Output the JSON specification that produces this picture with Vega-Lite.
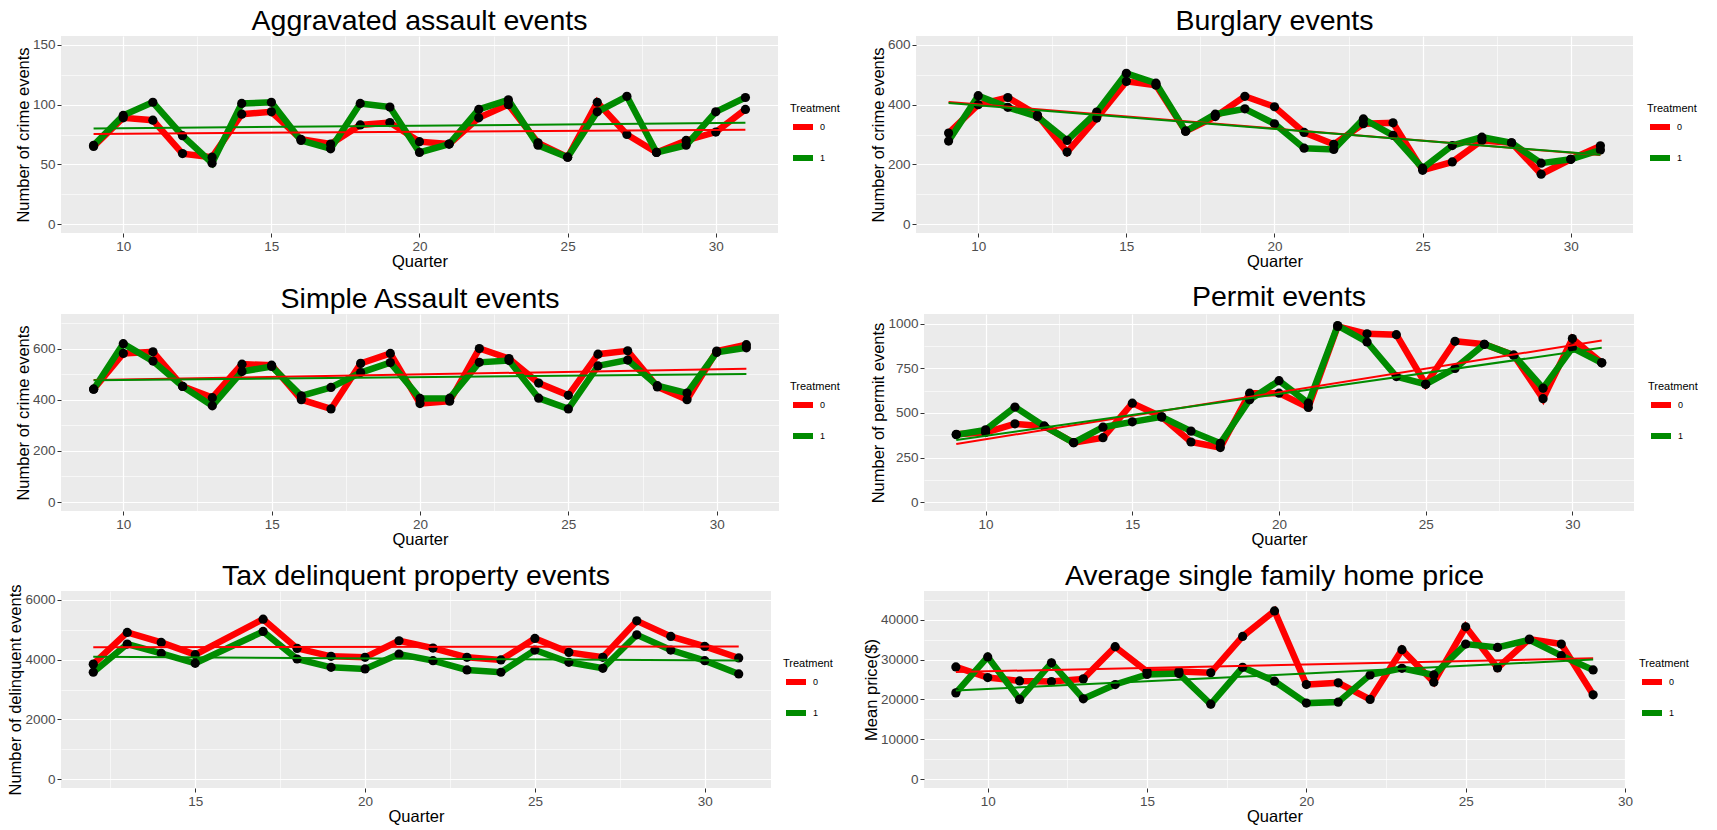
{
"$schema": "https://vega.github.io/schema/vega-lite/v6.json",
"background": "white",
"padding": {"left": 7, "top": 6, "right": 0, "bottom": 0},
"datasets": {"d": [
{"p":"A","q":9,"t":"0","v":65},{"p":"A","q":9,"t":"1","v":66},
{"p":"A","q":10,"t":"0","v":89},{"p":"A","q":10,"t":"1","v":91},
{"p":"A","q":11,"t":"0","v":87},{"p":"A","q":11,"t":"1","v":102},
{"p":"A","q":12,"t":"0","v":59},{"p":"A","q":12,"t":"1","v":74},
{"p":"A","q":13,"t":"0","v":56},{"p":"A","q":13,"t":"1","v":51},
{"p":"A","q":14,"t":"0","v":92},{"p":"A","q":14,"t":"1","v":101},
{"p":"A","q":15,"t":"0","v":94},{"p":"A","q":15,"t":"1","v":102},
{"p":"A","q":16,"t":"0","v":71},{"p":"A","q":16,"t":"1","v":70},
{"p":"A","q":17,"t":"0","v":67},{"p":"A","q":17,"t":"1","v":63},
{"p":"A","q":18,"t":"0","v":83},{"p":"A","q":18,"t":"1","v":101},
{"p":"A","q":19,"t":"0","v":85},{"p":"A","q":19,"t":"1","v":98},
{"p":"A","q":20,"t":"0","v":69},{"p":"A","q":20,"t":"1","v":60},
{"p":"A","q":21,"t":"0","v":67},{"p":"A","q":21,"t":"1","v":67},
{"p":"A","q":22,"t":"0","v":89},{"p":"A","q":22,"t":"1","v":96},
{"p":"A","q":23,"t":"0","v":100},{"p":"A","q":23,"t":"1","v":104},
{"p":"A","q":24,"t":"0","v":68},{"p":"A","q":24,"t":"1","v":66},
{"p":"A","q":25,"t":"0","v":56},{"p":"A","q":25,"t":"1","v":56},
{"p":"A","q":26,"t":"0","v":102},{"p":"A","q":26,"t":"1","v":94},
{"p":"A","q":27,"t":"0","v":75},{"p":"A","q":27,"t":"1","v":107},
{"p":"A","q":28,"t":"0","v":60},{"p":"A","q":28,"t":"1","v":60},
{"p":"A","q":29,"t":"0","v":70},{"p":"A","q":29,"t":"1","v":66},
{"p":"A","q":30,"t":"0","v":77},{"p":"A","q":30,"t":"1","v":94},
{"p":"A","q":31,"t":"0","v":96},{"p":"A","q":31,"t":"1","v":106},

{"p":"B","q":9,"t":"0","v":305},{"p":"B","q":9,"t":"1","v":278},
{"p":"B","q":10,"t":"0","v":400},{"p":"B","q":10,"t":"1","v":430},
{"p":"B","q":11,"t":"0","v":424},{"p":"B","q":11,"t":"1","v":391},
{"p":"B","q":12,"t":"0","v":365},{"p":"B","q":12,"t":"1","v":360},
{"p":"B","q":13,"t":"0","v":241},{"p":"B","q":13,"t":"1","v":280},
{"p":"B","q":14,"t":"0","v":355},{"p":"B","q":14,"t":"1","v":375},
{"p":"B","q":15,"t":"0","v":478},{"p":"B","q":15,"t":"1","v":505},
{"p":"B","q":16,"t":"0","v":465},{"p":"B","q":16,"t":"1","v":472},
{"p":"B","q":17,"t":"0","v":311},{"p":"B","q":17,"t":"1","v":311},
{"p":"B","q":18,"t":"0","v":360},{"p":"B","q":18,"t":"1","v":368},
{"p":"B","q":19,"t":"0","v":428},{"p":"B","q":19,"t":"1","v":386},
{"p":"B","q":20,"t":"0","v":393},{"p":"B","q":20,"t":"1","v":336},
{"p":"B","q":21,"t":"0","v":307},{"p":"B","q":21,"t":"1","v":254},
{"p":"B","q":22,"t":"0","v":267},{"p":"B","q":22,"t":"1","v":250},
{"p":"B","q":23,"t":"0","v":336},{"p":"B","q":23,"t":"1","v":352},
{"p":"B","q":24,"t":"0","v":339},{"p":"B","q":24,"t":"1","v":297},
{"p":"B","q":25,"t":"0","v":180},{"p":"B","q":25,"t":"1","v":187},
{"p":"B","q":26,"t":"0","v":208},{"p":"B","q":26,"t":"1","v":263},
{"p":"B","q":27,"t":"0","v":280},{"p":"B","q":27,"t":"1","v":291},
{"p":"B","q":28,"t":"0","v":272},{"p":"B","q":28,"t":"1","v":272},
{"p":"B","q":29,"t":"0","v":167},{"p":"B","q":29,"t":"1","v":204},
{"p":"B","q":30,"t":"0","v":217},{"p":"B","q":30,"t":"1","v":217},
{"p":"B","q":31,"t":"0","v":262},{"p":"B","q":31,"t":"1","v":248},

{"p":"C","q":9,"t":"0","v":441},{"p":"C","q":9,"t":"1","v":441},
{"p":"C","q":10,"t":"0","v":581},{"p":"C","q":10,"t":"1","v":619},
{"p":"C","q":11,"t":"0","v":587},{"p":"C","q":11,"t":"1","v":551},
{"p":"C","q":12,"t":"0","v":452},{"p":"C","q":12,"t":"1","v":452},
{"p":"C","q":13,"t":"0","v":408},{"p":"C","q":13,"t":"1","v":376},
{"p":"C","q":14,"t":"0","v":539},{"p":"C","q":14,"t":"1","v":510},
{"p":"C","q":15,"t":"0","v":535},{"p":"C","q":15,"t":"1","v":530},
{"p":"C","q":16,"t":"0","v":400},{"p":"C","q":16,"t":"1","v":415},
{"p":"C","q":17,"t":"0","v":364},{"p":"C","q":17,"t":"1","v":448},
{"p":"C","q":18,"t":"0","v":542},{"p":"C","q":18,"t":"1","v":506},
{"p":"C","q":19,"t":"0","v":581},{"p":"C","q":19,"t":"1","v":545},
{"p":"C","q":20,"t":"0","v":385},{"p":"C","q":20,"t":"1","v":405},
{"p":"C","q":21,"t":"0","v":394},{"p":"C","q":21,"t":"1","v":406},
{"p":"C","q":22,"t":"0","v":600},{"p":"C","q":22,"t":"1","v":546},
{"p":"C","q":23,"t":"0","v":561},{"p":"C","q":23,"t":"1","v":553},
{"p":"C","q":24,"t":"0","v":465},{"p":"C","q":24,"t":"1","v":406},
{"p":"C","q":25,"t":"0","v":417},{"p":"C","q":25,"t":"1","v":364},
{"p":"C","q":26,"t":"0","v":578},{"p":"C","q":26,"t":"1","v":532},
{"p":"C","q":27,"t":"0","v":591},{"p":"C","q":27,"t":"1","v":555},
{"p":"C","q":28,"t":"0","v":450},{"p":"C","q":28,"t":"1","v":455},
{"p":"C","q":29,"t":"0","v":400},{"p":"C","q":29,"t":"1","v":426},
{"p":"C","q":30,"t":"0","v":590},{"p":"C","q":30,"t":"1","v":585},
{"p":"C","q":31,"t":"0","v":615},{"p":"C","q":31,"t":"1","v":603},

{"p":"D","q":9,"t":"0","v":380},{"p":"D","q":9,"t":"1","v":378},
{"p":"D","q":10,"t":"0","v":390},{"p":"D","q":10,"t":"1","v":405},
{"p":"D","q":11,"t":"0","v":439},{"p":"D","q":11,"t":"1","v":533},
{"p":"D","q":12,"t":"0","v":426},{"p":"D","q":12,"t":"1","v":426},
{"p":"D","q":13,"t":"0","v":333},{"p":"D","q":13,"t":"1","v":333},
{"p":"D","q":14,"t":"0","v":361},{"p":"D","q":14,"t":"1","v":420},
{"p":"D","q":15,"t":"0","v":555},{"p":"D","q":15,"t":"1","v":450},
{"p":"D","q":16,"t":"0","v":478},{"p":"D","q":16,"t":"1","v":478},
{"p":"D","q":17,"t":"0","v":337},{"p":"D","q":17,"t":"1","v":398},
{"p":"D","q":18,"t":"0","v":306},{"p":"D","q":18,"t":"1","v":330},
{"p":"D","q":19,"t":"0","v":611},{"p":"D","q":19,"t":"1","v":574},
{"p":"D","q":20,"t":"0","v":611},{"p":"D","q":20,"t":"1","v":681},
{"p":"D","q":21,"t":"0","v":531},{"p":"D","q":21,"t":"1","v":555},
{"p":"D","q":22,"t":"0","v":985},{"p":"D","q":22,"t":"1","v":990},
{"p":"D","q":23,"t":"0","v":944},{"p":"D","q":23,"t":"1","v":898},
{"p":"D","q":24,"t":"0","v":939},{"p":"D","q":24,"t":"1","v":704},
{"p":"D","q":25,"t":"0","v":661},{"p":"D","q":25,"t":"1","v":661},
{"p":"D","q":26,"t":"0","v":902},{"p":"D","q":26,"t":"1","v":750},
{"p":"D","q":27,"t":"0","v":885},{"p":"D","q":27,"t":"1","v":885},
{"p":"D","q":28,"t":"0","v":824},{"p":"D","q":28,"t":"1","v":824},
{"p":"D","q":29,"t":"0","v":580},{"p":"D","q":29,"t":"1","v":639},
{"p":"D","q":30,"t":"0","v":917},{"p":"D","q":30,"t":"1","v":865},
{"p":"D","q":31,"t":"0","v":781},{"p":"D","q":31,"t":"1","v":781},

{"p":"E","q":12,"t":"0","v":3850},{"p":"E","q":12,"t":"1","v":3580},
{"p":"E","q":13,"t":"0","v":4911},{"p":"E","q":13,"t":"1","v":4522},
{"p":"E","q":14,"t":"0","v":4578},{"p":"E","q":14,"t":"1","v":4211},
{"p":"E","q":15,"t":"0","v":4167},{"p":"E","q":15,"t":"1","v":3878},
{"p":"E","q":17,"t":"0","v":5356},{"p":"E","q":17,"t":"1","v":4944},
{"p":"E","q":18,"t":"0","v":4378},{"p":"E","q":18,"t":"1","v":4022},
{"p":"E","q":19,"t":"0","v":4111},{"p":"E","q":19,"t":"1","v":3744},
{"p":"E","q":20,"t":"0","v":4078},{"p":"E","q":20,"t":"1","v":3689},
{"p":"E","q":21,"t":"0","v":4633},{"p":"E","q":21,"t":"1","v":4189},
{"p":"E","q":22,"t":"0","v":4389},{"p":"E","q":22,"t":"1","v":3967},
{"p":"E","q":23,"t":"0","v":4078},{"p":"E","q":23,"t":"1","v":3656},
{"p":"E","q":24,"t":"0","v":3989},{"p":"E","q":24,"t":"1","v":3578},
{"p":"E","q":25,"t":"0","v":4711},{"p":"E","q":25,"t":"1","v":4322},
{"p":"E","q":26,"t":"0","v":4244},{"p":"E","q":26,"t":"1","v":3911},
{"p":"E","q":27,"t":"0","v":4078},{"p":"E","q":27,"t":"1","v":3711},
{"p":"E","q":28,"t":"0","v":5300},{"p":"E","q":28,"t":"1","v":4833},
{"p":"E","q":29,"t":"0","v":4778},{"p":"E","q":29,"t":"1","v":4322},
{"p":"E","q":30,"t":"0","v":4444},{"p":"E","q":30,"t":"1","v":3967},
{"p":"E","q":31,"t":"0","v":4056},{"p":"E","q":31,"t":"1","v":3522},

{"p":"F","q":9,"t":"0","v":28170},{"p":"F","q":9,"t":"1","v":21650},
{"p":"F","q":10,"t":"0","v":25500},{"p":"F","q":10,"t":"1","v":30680},
{"p":"F","q":11,"t":"0","v":24650},{"p":"F","q":11,"t":"1","v":20000},
{"p":"F","q":12,"t":"0","v":24500},{"p":"F","q":12,"t":"1","v":29200},
{"p":"F","q":13,"t":"0","v":25170},{"p":"F","q":13,"t":"1","v":20170},
{"p":"F","q":14,"t":"0","v":33250},{"p":"F","q":14,"t":"1","v":23750},
{"p":"F","q":15,"t":"0","v":27000},{"p":"F","q":15,"t":"1","v":26300},
{"p":"F","q":16,"t":"0","v":27000},{"p":"F","q":16,"t":"1","v":26500},
{"p":"F","q":17,"t":"0","v":26700},{"p":"F","q":17,"t":"1","v":18800},
{"p":"F","q":18,"t":"0","v":35830},{"p":"F","q":18,"t":"1","v":28080},
{"p":"F","q":19,"t":"0","v":42250},{"p":"F","q":19,"t":"1","v":24580},
{"p":"F","q":20,"t":"0","v":23750},{"p":"F","q":20,"t":"1","v":19080},
{"p":"F","q":21,"t":"0","v":24170},{"p":"F","q":21,"t":"1","v":19330},
{"p":"F","q":22,"t":"0","v":20000},{"p":"F","q":22,"t":"1","v":26170},
{"p":"F","q":23,"t":"0","v":32500},{"p":"F","q":23,"t":"1","v":27830},
{"p":"F","q":24,"t":"0","v":24330},{"p":"F","q":24,"t":"1","v":26170},
{"p":"F","q":25,"t":"0","v":38250},{"p":"F","q":25,"t":"1","v":33920},
{"p":"F","q":26,"t":"0","v":27920},{"p":"F","q":26,"t":"1","v":33080},
{"p":"F","q":27,"t":"0","v":35170},{"p":"F","q":27,"t":"1","v":35000},
{"p":"F","q":28,"t":"0","v":33920},{"p":"F","q":28,"t":"1","v":31000},
{"p":"F","q":29,"t":"0","v":21170},{"p":"F","q":29,"t":"1","v":27420}
]},
"data": {"name": "d"},
"spacing": 13,
"resolve": {"scale": {"color": "independent", "x": "independent", "y": "independent"}, "legend": {"color": "independent"}},
"vconcat": [
{"spacing": 30, "resolve": {"scale": {"color": "independent", "x": "independent", "y": "independent"}, "legend": {"color": "independent"}},
 "hconcat": [
 {"width": 717, "height": 197, "title": {"text": "Aggravated assault events"},
  "transform": [{"filter": "datum.p === 'A'"}],
  "encoding": {
   "x": {"field": "q", "type": "quantitative", "scale": {"domain": [7.9, 32.1], "nice": false, "zero": false},
     "axis": {"title": "Quarter", "values": [10,12.5,15,17.5,20,22.5,25,27.5,30], "labelExpr": "datum.value % 5 === 0 ? datum.label : ''", "gridWidth": {"condition": {"test": "datum.value % 5 !== 0", "value": 0.6}, "value": 1.2}, "tickOpacity": {"condition": {"test": "datum.value % 5 !== 0", "value": 0}, "value": 1}}},
   "y": {"field": "v", "type": "quantitative", "scale": {"domain": [-7.5, 157.5], "nice": false, "zero": false},
     "axis": {"title": "Number of crime events", "values": [0,25,50,75,100,125,150], "labelExpr": "datum.value % 50 === 0 ? datum.label : ''", "gridWidth": {"condition": {"test": "datum.value % 50 !== 0", "value": 0.6}, "value": 1.2}, "tickOpacity": {"condition": {"test": "datum.value % 50 !== 0", "value": 0}, "value": 1}}}
  },
  "layer": [
   {"mark": {"type": "line", "strokeWidth": 6.5}, "encoding": {"color": {"field": "t", "type": "nominal", "scale": {"domain": ["0","1"], "range": ["#FF0000","#008B00"]}, "legend": {"title": "Treatment", "orient": "none", "legendX": 729, "legendY": 67}}}},
   {"mark": {"type": "circle", "size": 85, "color": "black", "opacity": 1}, "encoding": {}},
   {"transform": [{"regression": "v", "on": "q", "groupby": ["t"]}], "mark": {"type": "line", "strokeWidth": 2}, "encoding": {"color": {"field": "t", "type": "nominal", "scale": {"domain": ["0","1"], "range": ["#FF0000","#008B00"]}, "legend": {"title": "Treatment", "orient": "none", "legendX": 729, "legendY": 67}}}}
  ]},
 {"width": 717, "height": 197, "title": {"text": "Burglary events"},
  "transform": [{"filter": "datum.p === 'B'"}],
  "encoding": {
   "x": {"field": "q", "type": "quantitative", "scale": {"domain": [7.9, 32.1], "nice": false, "zero": false},
     "axis": {"title": "Quarter", "values": [10,12.5,15,17.5,20,22.5,25,27.5,30], "labelExpr": "datum.value % 5 === 0 ? datum.label : ''", "gridWidth": {"condition": {"test": "datum.value % 5 !== 0", "value": 0.6}, "value": 1.2}, "tickOpacity": {"condition": {"test": "datum.value % 5 !== 0", "value": 0}, "value": 1}}},
   "y": {"field": "v", "type": "quantitative", "scale": {"domain": [-30, 630], "nice": false, "zero": false},
     "axis": {"title": "Number of crime events", "values": [0,100,200,300,400,500,600], "labelExpr": "datum.value % 200 === 0 ? datum.label : ''", "gridWidth": {"condition": {"test": "datum.value % 200 !== 0", "value": 0.6}, "value": 1.2}, "tickOpacity": {"condition": {"test": "datum.value % 200 !== 0", "value": 0}, "value": 1}}}
  },
  "layer": [
   {"mark": {"type": "line", "strokeWidth": 6.5}, "encoding": {"color": {"field": "t", "type": "nominal", "scale": {"domain": ["0","1"], "range": ["#FF0000","#008B00"]}, "legend": {"title": "Treatment", "orient": "none", "legendX": 731, "legendY": 67}}}},
   {"mark": {"type": "circle", "size": 85, "color": "black", "opacity": 1}, "encoding": {}},
   {"transform": [{"regression": "v", "on": "q", "groupby": ["t"]}], "mark": {"type": "line", "strokeWidth": 2}, "encoding": {"color": {"field": "t", "type": "nominal", "scale": {"domain": ["0","1"], "range": ["#FF0000","#008B00"]}, "legend": {"title": "Treatment", "orient": "none", "legendX": 731, "legendY": 67}}}}
  ]}
 ]},
{"spacing": 30, "resolve": {"scale": {"color": "independent", "x": "independent", "y": "independent"}, "legend": {"color": "independent"}},
 "hconcat": [
 {"width": 718, "height": 197, "title": {"text": "Simple Assault events"},
  "transform": [{"filter": "datum.p === 'C'"}],
  "encoding": {
   "x": {"field": "q", "type": "quantitative", "scale": {"domain": [7.9, 32.1], "nice": false, "zero": false},
     "axis": {"title": "Quarter", "values": [10,12.5,15,17.5,20,22.5,25,27.5,30], "labelExpr": "datum.value % 5 === 0 ? datum.label : ''", "gridWidth": {"condition": {"test": "datum.value % 5 !== 0", "value": 0.6}, "value": 1.2}, "tickOpacity": {"condition": {"test": "datum.value % 5 !== 0", "value": 0}, "value": 1}}},
   "y": {"field": "v", "type": "quantitative", "scale": {"domain": [-35, 735], "nice": false, "zero": false},
     "axis": {"title": "Number of crime events", "values": [0,100,200,300,400,500,600,700], "labelExpr": "datum.value % 200 === 0 ? datum.label : ''", "gridWidth": {"condition": {"test": "datum.value % 200 !== 0", "value": 0.6}, "value": 1.2}, "tickOpacity": {"condition": {"test": "datum.value % 200 !== 0", "value": 0}, "value": 1}}}
  },
  "layer": [
   {"mark": {"type": "line", "strokeWidth": 6.5}, "encoding": {"color": {"field": "t", "type": "nominal", "scale": {"domain": ["0","1"], "range": ["#FF0000","#008B00"]}, "legend": {"title": "Treatment", "orient": "none", "legendX": 729, "legendY": 67}}}},
   {"mark": {"type": "circle", "size": 85, "color": "black", "opacity": 1}, "encoding": {}},
   {"transform": [{"regression": "v", "on": "q", "groupby": ["t"]}], "mark": {"type": "line", "strokeWidth": 2}, "encoding": {"color": {"field": "t", "type": "nominal", "scale": {"domain": ["0","1"], "range": ["#FF0000","#008B00"]}, "legend": {"title": "Treatment", "orient": "none", "legendX": 729, "legendY": 67}}}}
  ]},
 {"width": 710, "height": 197, "title": {"text": "Permit events"},
  "transform": [{"filter": "datum.p === 'D'"}],
  "encoding": {
   "x": {"field": "q", "type": "quantitative", "scale": {"domain": [7.9, 32.1], "nice": false, "zero": false},
     "axis": {"title": "Quarter", "values": [10,12.5,15,17.5,20,22.5,25,27.5,30], "labelExpr": "datum.value % 5 === 0 ? datum.label : ''", "gridWidth": {"condition": {"test": "datum.value % 5 !== 0", "value": 0.6}, "value": 1.2}, "tickOpacity": {"condition": {"test": "datum.value % 5 !== 0", "value": 0}, "value": 1}}},
   "y": {"field": "v", "type": "quantitative", "scale": {"domain": [-50, 1055], "nice": false, "zero": false},
     "axis": {"title": "Number of permit events", "format": "d", "values": [0,125,250,375,500,625,750,875,1000], "labelExpr": "datum.value % 250 === 0 ? datum.label : ''", "gridWidth": {"condition": {"test": "datum.value % 250 !== 0", "value": 0.6}, "value": 1.2}, "tickOpacity": {"condition": {"test": "datum.value % 250 !== 0", "value": 0}, "value": 1}}}
  },
  "layer": [
   {"mark": {"type": "line", "strokeWidth": 6.5}, "encoding": {"color": {"field": "t", "type": "nominal", "scale": {"domain": ["0","1"], "range": ["#FF0000","#008B00"]}, "legend": {"title": "Treatment", "orient": "none", "legendX": 724, "legendY": 67}}}},
   {"mark": {"type": "circle", "size": 85, "color": "black", "opacity": 1}, "encoding": {}},
   {"transform": [{"regression": "v", "on": "q", "groupby": ["t"]}], "mark": {"type": "line", "strokeWidth": 2}, "encoding": {"color": {"field": "t", "type": "nominal", "scale": {"domain": ["0","1"], "range": ["#FF0000","#008B00"]}, "legend": {"title": "Treatment", "orient": "none", "legendX": 724, "legendY": 67}}}}
  ]}
 ]},
{"spacing": 30, "resolve": {"scale": {"color": "independent", "x": "independent", "y": "independent"}, "legend": {"color": "independent"}},
 "hconcat": [
 {"width": 710, "height": 197, "title": {"text": "Tax delinquent property events", "offset": -6},
  "transform": [{"filter": "datum.p === 'E'"}],
  "encoding": {
   "x": {"field": "q", "type": "quantitative", "scale": {"domain": [11.05, 31.95], "nice": false, "zero": false},
     "axis": {"title": "Quarter", "values": [12.5,15,17.5,20,22.5,25,27.5,30], "labelExpr": "datum.value % 5 === 0 ? datum.label : ''", "gridWidth": {"condition": {"test": "datum.value % 5 !== 0", "value": 0.6}, "value": 1.2}, "tickOpacity": {"condition": {"test": "datum.value % 5 !== 0", "value": 0}, "value": 1}}},
   "y": {"field": "v", "type": "quantitative", "scale": {"domain": [-300, 6300], "nice": false, "zero": false},
     "axis": {"title": "Number of delinquent events", "values": [0,1000,2000,3000,4000,5000,6000], "labelExpr": "datum.value % 2000 === 0 ? datum.label : ''", "format": "d", "gridWidth": {"condition": {"test": "datum.value % 2000 !== 0", "value": 0.6}, "value": 1.2}, "tickOpacity": {"condition": {"test": "datum.value % 2000 !== 0", "value": 0}, "value": 1}}}
  },
  "layer": [
   {"mark": {"type": "line", "strokeWidth": 6.5}, "encoding": {"color": {"field": "t", "type": "nominal", "scale": {"domain": ["0","1"], "range": ["#FF0000","#008B00"]}, "legend": {"title": "Treatment", "orient": "none", "legendX": 722, "legendY": 67}}}},
   {"mark": {"type": "circle", "size": 85, "color": "black", "opacity": 1}, "encoding": {}},
   {"transform": [{"regression": "v", "on": "q", "groupby": ["t"]}], "mark": {"type": "line", "strokeWidth": 2}, "encoding": {"color": {"field": "t", "type": "nominal", "scale": {"domain": ["0","1"], "range": ["#FF0000","#008B00"]}, "legend": {"title": "Treatment", "orient": "none", "legendX": 722, "legendY": 67}}}}
  ]},
 {"width": 701, "height": 197, "title": {"text": "Average single family home price"},
  "transform": [{"filter": "datum.p === 'F'"}],
  "encoding": {
   "x": {"field": "q", "type": "quantitative", "scale": {"domain": [8, 30], "nice": false, "zero": false},
     "axis": {"title": "Quarter", "values": [10,12.5,15,17.5,20,22.5,25,27.5,30], "labelExpr": "datum.value % 5 === 0 ? datum.label : ''", "gridWidth": {"condition": {"test": "datum.value % 5 !== 0", "value": 0.6}, "value": 1.2}, "tickOpacity": {"condition": {"test": "datum.value % 5 !== 0", "value": 0}, "value": 1}}},
   "y": {"field": "v", "type": "quantitative", "scale": {"domain": [-2250, 47250], "nice": false, "zero": false},
     "axis": {"title": "Mean price($)", "values": [0,5000,10000,15000,20000,25000,30000,35000,40000,45000], "format": "d", "labelExpr": "datum.value % 10000 === 0 ? datum.label : ''", "gridWidth": {"condition": {"test": "datum.value % 10000 !== 0", "value": 0.6}, "value": 1.2}, "tickOpacity": {"condition": {"test": "datum.value % 10000 !== 0", "value": 0}, "value": 1}}}
  },
  "layer": [
   {"mark": {"type": "line", "strokeWidth": 6.5}, "encoding": {"color": {"field": "t", "type": "nominal", "scale": {"domain": ["0","1"], "range": ["#FF0000","#008B00"]}, "legend": {"title": "Treatment", "orient": "none", "legendX": 715, "legendY": 67}}}},
   {"mark": {"type": "circle", "size": 85, "color": "black", "opacity": 1}, "encoding": {}},
   {"transform": [{"regression": "v", "on": "q", "groupby": ["t"]}], "mark": {"type": "line", "strokeWidth": 2}, "encoding": {"color": {"field": "t", "type": "nominal", "scale": {"domain": ["0","1"], "range": ["#FF0000","#008B00"]}, "legend": {"title": "Treatment", "orient": "none", "legendX": 715, "legendY": 67}}}}
  ]}
 ]}
],
"config": {
 "view": {"fill": "#EBEBEB", "stroke": null},
 "font": "Liberation Sans",
 "title": {"fontSize": 28.5, "fontWeight": "normal", "font": "Liberation Sans", "color": "#000000", "offset": 1, "frame": "group"},
 "axis": {"domain": false, "grid": true, "gridColor": "#FFFFFF", "tickColor": "#333333", "tickSize": 4, "labelColor": "#4D4D4D", "labelFontSize": 13.5, "labelFont": "Liberation Sans", "titleFont": "Liberation Sans", "titleFontSize": 16.5, "titleFontWeight": "normal", "titleColor": "#000000", "labelPadding": 2, "labelOverlap": false, "labelFlush": false},
 "axisX": {"titlePadding": 1, "labelPadding": 2},
 "axisY": {"titlePadding": 1},
 "legend": {"symbolType": "stroke", "symbolStrokeWidth": 6, "symbolSize": 400, "titleFontSize": 11, "titleFontWeight": "normal", "titleFont": "Liberation Sans", "labelFont": "Liberation Sans", "labelFontSize": 9, "titleColor": "#000000", "labelColor": "#000000", "rowPadding": 6, "titlePadding": 0}
}
}
